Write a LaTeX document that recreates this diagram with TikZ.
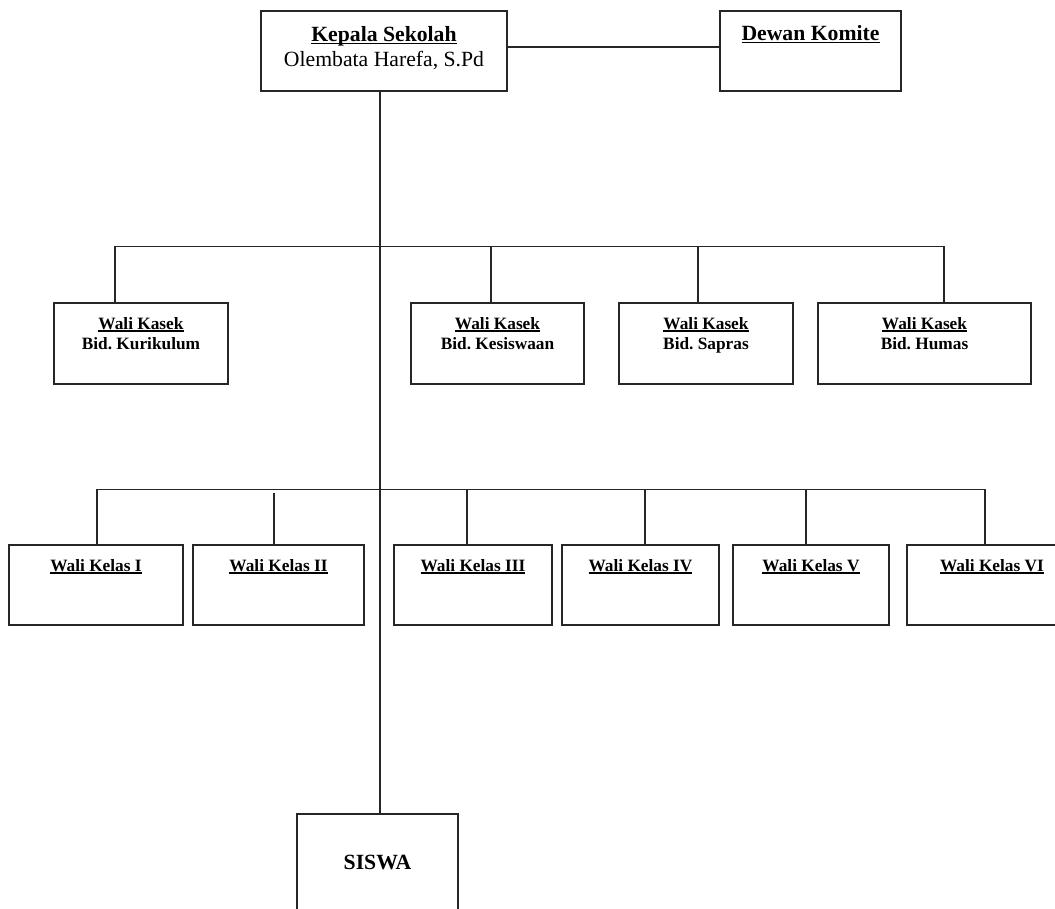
\documentclass[tikz,border=0pt]{standalone}
\usepackage{fontspec}
\setmainfont{Liberation Serif}
\frenchspacing
\newsavebox\ulbox
\newcommand\myul[1]{\sbox\ulbox{#1}\rlap{\rule[-2.6pt]{\wd\ulbox}{1.2pt}}\usebox\ulbox}
\tikzset{
  box/.style={draw=black!85, line width=1.4pt, inner sep=0pt, outer sep=0pt, fill=white},
  kasekbox/.style={box, minimum height=81pt},
  kelasbox/.style={box, minimum height=80pt},
  conn/.style={draw=black!85, line width=1.4pt},
  bigtxt/.style={anchor=base, inner sep=0pt, font=\fontsize{21.7}{26}\selectfont},
  smalltxt/.style={anchor=base, inner sep=0pt, font=\fontsize{17.3}{20}\selectfont\bfseries},
}
\begin{document}
\begin{tikzpicture}[x=1pt, y=-1pt]
\useasboundingbox (0,0) rectangle (1055,908);
\clip (0,0) rectangle (1055,908);
\fill[white] (0,0) rectangle (1055,908);

% top row
\node[box, minimum width=246pt, minimum height=80pt] (kepala) at (384,51) {};
\node[bigtxt] (kepala1) at (384,41.7) {\bfseries\myul{Kepala Sekolah}};
\node[bigtxt] (kepala2) at (384,66) {Olembata Harefa, S.Pd};
\node[box, minimum width=181pt, minimum height=80pt] (dewan) at (810.5,51) {};
\node[bigtxt] (dewan1) at (810.5,40.5) {\bfseries\myul{Dewan Komite}};

% siswa
\node[box, minimum width=161pt, minimum height=120pt] (siswa) at (377.5,874) {};
\node[bigtxt] (siswa1) at (377.5,869) {\bfseries SISWA};

% kasek row
\node[kasekbox, minimum width=174pt] (kur) at (141,343.5) {};
\node[kasekbox, minimum width=173pt] (kes) at (497.5,343.5) {};
\node[kasekbox, minimum width=174pt] (sap) at (706,343.5) {};
\node[kasekbox, minimum width=213pt] (hum) at (924.5,343.5) {};
\foreach \n/\t in {kur/Kurikulum, kes/Kesiswaan, sap/Sapras, hum/Humas}{
  \node[smalltxt] (\n1) at ([yshift=-26pt]\n.north) {\myul{Wali Kasek}};
  \node[smalltxt] (\n2) at ([yshift=-46pt]\n.north) {Bid. \t};
}

% kelas row
\node[kelasbox, minimum width=174pt] (k1) at (96,585) {};
\node[kelasbox, minimum width=171pt] (k2) at (278.5,585) {};
\node[kelasbox, minimum width=158pt] (k3) at (473,585) {};
\node[kelasbox, minimum width=157pt] (k4) at (640.5,585) {};
\node[kelasbox, minimum width=156pt] (k5) at (811,585) {};
\node[kelasbox, minimum width=170pt] (k6) at (992,585) {};
\foreach \n/\t in {k1/I, k2/II, k3/III, k4/IV, k5/V, k6/VI}{
  \node[smalltxt] (\n1) at ([yshift=-26pt]\n.north) {\myul{Wali Kelas \t}};
}

% connectors
\coordinate (trunk) at (380,0);
\draw[conn] ([yshift=4pt]kepala.east) -- ([yshift=4pt]dewan.west);
\draw[conn] (kepala.south -| trunk) -- (siswa.north -| trunk);

\coordinate (ka) at (115,246.5);
\coordinate (kb) at (491,246.5);
\coordinate (kc) at (698,246.5);
\coordinate (kd) at (944,246.5);
\draw[conn] (kur.north -| ka) -- (ka) -- (kd) -- (kd |- hum.north);
\draw[conn] (kb) -- (kb |- kes.north);
\draw[conn] (kc) -- (kc |- sap.north);

\coordinate (la) at (97,489.5);
\coordinate (lb) at (274,492.5);
\coordinate (lc) at (467,489.5);
\coordinate (ld) at (645,489.5);
\coordinate (le) at (806,489.5);
\coordinate (lf) at (985,489.5);
\draw[conn] (k1.north -| la) -- (la) -- (lf) -- (lf |- k6.north);
\draw[conn] (lb) -- (lb |- k2.north);
\draw[conn] (lc) -- (lc |- k3.north);
\draw[conn] (ld) -- (ld |- k4.north);
\draw[conn] (le) -- (le |- k5.north);
\end{tikzpicture}
\end{document}
